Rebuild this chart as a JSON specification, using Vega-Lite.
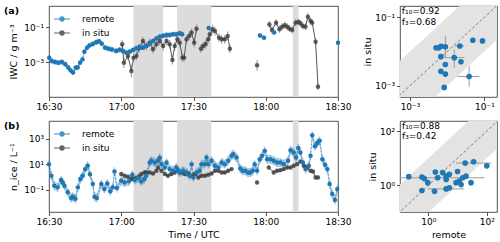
{
"$schema":"https://vega.github.io/schema/vega-lite/v6.json",
"padding":{"left":3,"top":5,"right":4,"bottom":2},
"columns":2,
"spacing":{"row":24,"column":62},
"bounds":"flush",
"resolve":{"scale":{"color":"independent"},"legend":{"color":"independent"}},
"config":{
 "font":"DejaVu Sans",
 "view":{"stroke":"#262626","strokeWidth":0.8},
 "axis":{"grid":false,"domain":false,"labelFontSize":9,"titleFontSize":9.5,"titleFontWeight":"normal","labelColor":"#000","titleColor":"#000","tickColor":"#262626","tickSize":3.5,"tickWidth":0.8,"labelPadding":2,"titlePadding":3,"labelFont":"DejaVu Sans","titleFont":"DejaVu Sans"},
 "axisX":{"labelFlush":false},
 "axisY":{"labelFlush":false,"titlePadding":5},
 "legend":{"labelFont":"DejaVu Sans"},
 "text":{"font":"DejaVu Sans"},
 "title":{"font":"DejaVu Sans"}
},
"datasets":{
 "spans":[{"min":35.1,"end":47.4},{"min":53.2,"end":67.4},{"min":101.25,"end":103.6}],
 "remA":[{"min":0.1,"lg":-2.75,"lo":-2.9,"hi":-2.6,"seg":1},{"min":1.1,"lg":-2.94,"lo":-3.09,"hi":-2.79,"seg":1},{"min":2.5,"lg":-3.0,"lo":-3.15,"hi":-2.85,"seg":1},{"min":3.9,"lg":-3.04,"lo":-3.19,"hi":-2.89,"seg":1},{"min":5.4,"lg":-3.0,"lo":-3.15,"hi":-2.85,"seg":1},{"min":6.8,"lg":-3.13,"lo":-3.28,"hi":-2.98,"seg":1},{"min":8.0,"lg":-3.32,"lo":-3.47,"hi":-3.17,"seg":1},{"min":9.0,"lg":-3.48,"lo":-3.63,"hi":-3.33,"seg":1},{"min":10.0,"lg":-3.6,"lo":-3.75,"hi":-3.45,"seg":1},{"min":11.1,"lg":-3.32,"lo":-3.47,"hi":-3.17,"seg":1},{"min":11.9,"lg":-3.32,"lo":-3.47,"hi":-3.17,"seg":1},{"min":12.9,"lg":-3.04,"lo":-3.19,"hi":-2.89,"seg":1},{"min":13.9,"lg":-2.85,"lo":-3.0,"hi":-2.7,"seg":1},{"min":14.7,"lg":-2.41,"lo":-2.56,"hi":-2.26,"seg":1},{"min":15.8,"lg":-2.18,"lo":-2.33,"hi":-2.03,"seg":1},{"min":16.8,"lg":-2.05,"lo":-2.2,"hi":-1.9,"seg":1},{"min":18.2,"lg":-1.97,"lo":-2.12,"hi":-1.82,"seg":1},{"min":19.6,"lg":-1.87,"lo":-2.02,"hi":-1.72,"seg":1},{"min":20.8,"lg":-1.82,"lo":-1.97,"hi":-1.67,"seg":1},{"min":21.9,"lg":-1.95,"lo":-2.1,"hi":-1.8,"seg":1},{"min":23.3,"lg":-2.18,"lo":-2.33,"hi":-2.03,"seg":1},{"min":24.7,"lg":-2.24,"lo":-2.39,"hi":-2.09,"seg":1},{"min":26.1,"lg":-2.28,"lo":-2.43,"hi":-2.13,"seg":1},{"min":27.9,"lg":-2.37,"lo":-2.52,"hi":-2.22,"seg":1},{"min":29.3,"lg":-2.3,"lo":-2.45,"hi":-2.15,"seg":1},{"min":30.7,"lg":-2.37,"lo":-2.52,"hi":-2.22,"seg":1},{"min":32.1,"lg":-2.47,"lo":-2.62,"hi":-2.32,"seg":1},{"min":33.5,"lg":-2.41,"lo":-2.56,"hi":-2.26,"seg":1},{"min":34.9,"lg":-2.31,"lo":-2.46,"hi":-2.16,"seg":1},{"min":36.3,"lg":-2.22,"lo":-2.37,"hi":-2.07,"seg":1},{"min":37.6,"lg":-2.14,"lo":-2.29,"hi":-1.99,"seg":1},{"min":39.0,"lg":-2.18,"lo":-2.33,"hi":-2.03,"seg":1},{"min":40.4,"lg":-2.09,"lo":-2.24,"hi":-1.94,"seg":1},{"min":41.8,"lg":-1.95,"lo":-2.1,"hi":-1.8,"seg":1},{"min":43.2,"lg":-1.8,"lo":-1.95,"hi":-1.65,"seg":1},{"min":44.6,"lg":-1.65,"lo":-1.8,"hi":-1.5,"seg":1},{"min":46.0,"lg":-1.55,"lo":-1.7,"hi":-1.4,"seg":1},{"min":47.4,"lg":-1.5,"lo":-1.65,"hi":-1.35,"seg":1},{"min":48.8,"lg":-1.46,"lo":-1.61,"hi":-1.31,"seg":1},{"min":50.1,"lg":-1.46,"lo":-1.61,"hi":-1.31,"seg":1},{"min":51.5,"lg":-1.42,"lo":-1.57,"hi":-1.27,"seg":1},{"min":52.9,"lg":-1.42,"lo":-1.57,"hi":-1.27,"seg":1},{"min":54.3,"lg":-1.36,"lo":-1.51,"hi":-1.21,"seg":1},{"min":55.3,"lg":-1.42,"lo":-1.57,"hi":-1.27,"seg":1},{"min":66.3,"lg":-1.06,"lo":-1.18,"hi":-0.94,"seg":2},{"min":87.6,"lg":-1.48,"lo":-1.6,"hi":-1.36,"seg":3},{"min":89.3,"lg":-1.61,"lo":-1.73,"hi":-1.49,"seg":3},{"min":93.5,"lg":-1.32,"lo":-1.44,"hi":-1.2,"seg":4},{"min":120,"lg":-1.9,"lo":-2.02,"hi":-1.78,"seg":5}],
 "insA":[{"min":30.4,"lg":-1.99,"lo":-2.24,"hi":-1.74,"seg":1},{"min":31.1,"lg":-3.04,"lo":-3.34,"hi":-2.74,"seg":1},{"min":32.8,"lg":-2.66,"lo":-2.91,"hi":-2.41,"seg":1},{"min":34.2,"lg":-3.51,"lo":-3.86,"hi":-3.16,"seg":1},{"min":35.1,"lg":-2.75,"lo":-3.0,"hi":-2.5,"seg":1},{"min":36.3,"lg":-2.66,"lo":-2.91,"hi":-2.41,"seg":1},{"min":37.5,"lg":-2.2,"lo":-2.45,"hi":-1.95,"seg":1},{"min":39.0,"lg":-1.8,"lo":-2.05,"hi":-1.55,"seg":1},{"min":40.4,"lg":-2.09,"lo":-2.34,"hi":-1.84,"seg":1},{"min":41.8,"lg":-1.9,"lo":-2.15,"hi":-1.65,"seg":1},{"min":43.2,"lg":-2.27,"lo":-2.52,"hi":-2.02,"seg":1},{"min":44.6,"lg":-1.99,"lo":-2.24,"hi":-1.74,"seg":1},{"min":46.0,"lg":-1.8,"lo":-2.05,"hi":-1.55,"seg":1},{"min":47.4,"lg":-2.09,"lo":-2.34,"hi":-1.84,"seg":1},{"min":48.8,"lg":-1.8,"lo":-2.05,"hi":-1.55,"seg":1},{"min":50.1,"lg":-1.99,"lo":-2.24,"hi":-1.74,"seg":1},{"min":51.25,"lg":-2.89,"lo":-3.14,"hi":-2.64,"seg":1},{"min":52.2,"lg":-2.09,"lo":-2.34,"hi":-1.84,"seg":1},{"min":53.3,"lg":-1.7,"lo":-1.95,"hi":-1.45,"seg":1},{"min":54.3,"lg":-1.9,"lo":-2.15,"hi":-1.65,"seg":1},{"min":55.4,"lg":-2.75,"lo":-3.0,"hi":-2.5,"seg":1},{"min":56.1,"lg":-2.75,"lo":-3.0,"hi":-2.5,"seg":1},{"min":57.1,"lg":-1.7,"lo":-1.95,"hi":-1.45,"seg":1},{"min":58.2,"lg":-1.51,"lo":-1.76,"hi":-1.26,"seg":1},{"min":59.2,"lg":-1.32,"lo":-1.57,"hi":-1.07,"seg":1},{"min":60.3,"lg":-1.9,"lo":-2.15,"hi":-1.65,"seg":1},{"min":61.25,"lg":-1.1,"lo":-1.35,"hi":-0.85,"seg":1},{"min":63.1,"lg":-2.24,"lo":-2.49,"hi":-1.99,"seg":2},{"min":64.0,"lg":-2.09,"lo":-2.34,"hi":-1.84,"seg":2},{"min":65.0,"lg":-1.99,"lo":-2.24,"hi":-1.74,"seg":2},{"min":66.1,"lg":-1.7,"lo":-1.95,"hi":-1.45,"seg":2},{"min":66.8,"lg":-1.42,"lo":-1.67,"hi":-1.17,"seg":2},{"min":67.9,"lg":-1.13,"lo":-1.38,"hi":-0.88,"seg":2},{"min":68.9,"lg":-1.23,"lo":-1.48,"hi":-0.98,"seg":2},{"min":70.6,"lg":-1.61,"lo":-1.86,"hi":-1.36,"seg":2},{"min":71.7,"lg":-1.7,"lo":-1.95,"hi":-1.45,"seg":2},{"min":73.0,"lg":-1.7,"lo":-1.95,"hi":-1.45,"seg":2},{"min":74.2,"lg":-1.51,"lo":-1.76,"hi":-1.26,"seg":2},{"min":75.1,"lg":-2.24,"lo":-2.49,"hi":-1.99,"seg":2},{"min":86.4,"lg":-3.19,"lo":-3.5,"hi":-2.88,"seg":3},{"min":91.5,"lg":-0.85,"lo":-1.05,"hi":-0.65,"seg":4},{"min":92.6,"lg":-1.17,"lo":-1.37,"hi":-0.97,"seg":4},{"min":94.3,"lg":-0.75,"lo":-0.95,"hi":-0.55,"seg":4},{"min":95.7,"lg":-1.13,"lo":-1.33,"hi":-0.93,"seg":4},{"min":96.8,"lg":-0.98,"lo":-1.18,"hi":-0.78,"seg":4},{"min":97.9,"lg":-0.9,"lo":-1.1,"hi":-0.7,"seg":4},{"min":98.9,"lg":-0.98,"lo":-1.18,"hi":-0.78,"seg":4},{"min":99.9,"lg":-1.1,"lo":-1.3,"hi":-0.9,"seg":4},{"min":101.0,"lg":-1.17,"lo":-1.37,"hi":-0.97,"seg":4},{"min":102.4,"lg":-0.75,"lo":-0.95,"hi":-0.55,"seg":4},{"min":103.5,"lg":-0.71,"lo":-0.91,"hi":-0.51,"seg":4},{"min":104.4,"lg":-0.79,"lo":-0.99,"hi":-0.59,"seg":4},{"min":105.4,"lg":-0.94,"lo":-1.14,"hi":-0.74,"seg":4},{"min":106.5,"lg":-0.98,"lo":-1.18,"hi":-0.78,"seg":4},{"min":107.5,"lg":-0.41,"lo":-0.61,"hi":-0.21,"seg":4},{"min":108.6,"lg":-0.66,"lo":-0.86,"hi":-0.46,"seg":4},{"min":109.3,"lg":-0.75,"lo":-0.95,"hi":-0.55,"seg":4},{"min":110.7,"lg":-1.84,"lo":-2.04,"hi":-1.64,"seg":4},{"min":111.7,"lg":-4.41,"lo":-4.61,"hi":-4.21,"seg":4}],
 "remB":[{"min":0,"lg":1.0,"lo":0.65,"hi":1.35},{"min":1,"lg":0.09,"lo":-0.26,"hi":0.44},{"min":2.2,"lg":-0.69,"lo":-1.04,"hi":-0.34},{"min":3.6,"lg":-0.82,"lo":-1.17,"hi":-0.47},{"min":5,"lg":-0.25,"lo":-0.6,"hi":0.1},{"min":5.7,"lg":-0.43,"lo":-0.78,"hi":-0.08},{"min":6.4,"lg":-0.69,"lo":-1.04,"hi":-0.34},{"min":7.8,"lg":-1.21,"lo":-1.56,"hi":-0.86},{"min":9.2,"lg":-1.65,"lo":-2.0,"hi":-1.3},{"min":9.9,"lg":-1.55,"lo":-1.9,"hi":-1.2},{"min":11,"lg":-1.72,"lo":-2.07,"hi":-1.37},{"min":12,"lg":-0.82,"lo":-1.17,"hi":-0.47},{"min":13,"lg":-0.17,"lo":-0.52,"hi":0.18},{"min":14,"lg":0.09,"lo":-0.26,"hi":0.44},{"min":15,"lg":0.61,"lo":0.26,"hi":0.96},{"min":16.1,"lg":0.87,"lo":0.52,"hi":1.22},{"min":17.0,"lg":0.2,"lo":-0.15,"hi":0.55},{"min":18.2,"lg":-0.56,"lo":-0.91,"hi":-0.21},{"min":18.9,"lg":-1.55,"lo":-1.9,"hi":-1.2},{"min":19.9,"lg":-1.65,"lo":-2.0,"hi":-1.3},{"min":21.7,"lg":-0.56,"lo":-0.91,"hi":-0.21},{"min":23,"lg":-0.95,"lo":-1.3,"hi":-0.6},{"min":24.2,"lg":-0.51,"lo":-0.86,"hi":-0.16},{"min":25.4,"lg":-1.13,"lo":-1.48,"hi":-0.78},{"min":26.5,"lg":-0.82,"lo":-1.17,"hi":-0.47},{"min":27.2,"lg":0.42,"lo":0.07,"hi":0.77},{"min":28.2,"lg":-0.87,"lo":-1.22,"hi":-0.52},{"min":30,"lg":-0.3,"lo":-0.65,"hi":0.05},{"min":31.4,"lg":-0.43,"lo":-0.78,"hi":-0.08},{"min":33.2,"lg":-0.35,"lo":-0.7,"hi":0.0},{"min":34.6,"lg":0.17,"lo":-0.18,"hi":0.52},{"min":35.6,"lg":-0.25,"lo":-0.6,"hi":0.1},{"min":37,"lg":-0.09,"lo":-0.44,"hi":0.26},{"min":38.3,"lg":-0.35,"lo":-0.7,"hi":0.0},{"min":39.6,"lg":-0.17,"lo":-0.52,"hi":0.18},{"min":40.4,"lg":0.09,"lo":-0.26,"hi":0.44},{"min":41.8,"lg":1.13,"lo":0.78,"hi":1.48},{"min":42.5,"lg":1.26,"lo":0.91,"hi":1.61},{"min":43.9,"lg":1.13,"lo":0.78,"hi":1.48},{"min":45.3,"lg":1.26,"lo":0.91,"hi":1.61},{"min":46.0,"lg":1.5,"lo":1.15,"hi":1.85},{"min":46.7,"lg":1.0,"lo":0.65,"hi":1.35},{"min":48.1,"lg":0.74,"lo":0.39,"hi":1.09},{"min":48.8,"lg":1.13,"lo":0.78,"hi":1.48},{"min":50.1,"lg":0.61,"lo":0.26,"hi":0.96},{"min":51.5,"lg":0.48,"lo":0.13,"hi":0.83},{"min":52.9,"lg":0.74,"lo":0.39,"hi":1.09},{"min":53.6,"lg":0.48,"lo":0.13,"hi":0.83},{"min":54.3,"lg":0.35,"lo":0.0,"hi":0.7},{"min":55.7,"lg":0.48,"lo":0.13,"hi":0.83},{"min":57.1,"lg":0.35,"lo":0.0,"hi":0.7},{"min":58.5,"lg":0.09,"lo":-0.26,"hi":0.44},{"min":59.2,"lg":1.0,"lo":0.65,"hi":1.35},{"min":59.9,"lg":-0.04,"lo":-0.39,"hi":0.31},{"min":61.25,"lg":0.35,"lo":0.0,"hi":0.7},{"min":62.6,"lg":0.48,"lo":0.13,"hi":0.83},{"min":63.3,"lg":1.0,"lo":0.65,"hi":1.35},{"min":64.7,"lg":1.0,"lo":0.65,"hi":1.35},{"min":65.4,"lg":1.52,"lo":1.17,"hi":1.87},{"min":66.1,"lg":1.0,"lo":0.65,"hi":1.35},{"min":67.5,"lg":1.26,"lo":0.91,"hi":1.61},{"min":68.9,"lg":0.87,"lo":0.52,"hi":1.22},{"min":70.3,"lg":0.74,"lo":0.39,"hi":1.09},{"min":71.7,"lg":1.13,"lo":0.78,"hi":1.48},{"min":73.0,"lg":1.0,"lo":0.65,"hi":1.35},{"min":74.4,"lg":1.26,"lo":0.91,"hi":1.61},{"min":75.8,"lg":1.65,"lo":1.3,"hi":2.0},{"min":76.5,"lg":1.78,"lo":1.43,"hi":2.13},{"min":77.9,"lg":1.52,"lo":1.17,"hi":1.87},{"min":79.4,"lg":0.65,"lo":0.3,"hi":1.0},{"min":80.4,"lg":0.48,"lo":0.13,"hi":0.83},{"min":81.5,"lg":0.48,"lo":0.13,"hi":0.83},{"min":82.6,"lg":0.35,"lo":0.0,"hi":0.7},{"min":83.6,"lg":0.35,"lo":0.0,"hi":0.7},{"min":84.6,"lg":0.48,"lo":0.13,"hi":0.83},{"min":85.4,"lg":1.0,"lo":0.65,"hi":1.35},{"min":86.4,"lg":0.48,"lo":0.13,"hi":0.83},{"min":87.5,"lg":1.39,"lo":1.04,"hi":1.74},{"min":88.5,"lg":1.65,"lo":1.3,"hi":2.0},{"min":89.6,"lg":2.04,"lo":1.69,"hi":2.39},{"min":90.6,"lg":1.39,"lo":1.04,"hi":1.74},{"min":92,"lg":1.39,"lo":1.04,"hi":1.74},{"min":93.3,"lg":1.26,"lo":0.91,"hi":1.61},{"min":94.7,"lg":1.13,"lo":0.78,"hi":1.48},{"min":96.1,"lg":1.13,"lo":0.78,"hi":1.48},{"min":97.5,"lg":1.0,"lo":0.65,"hi":1.35},{"min":99.3,"lg":1.26,"lo":0.91,"hi":1.61},{"min":100.3,"lg":2.09,"lo":1.74,"hi":2.44},{"min":101.6,"lg":1.91,"lo":1.56,"hi":2.26},{"min":102.6,"lg":1.52,"lo":1.17,"hi":1.87},{"min":103.5,"lg":2.26,"lo":1.91,"hi":2.61},{"min":104.4,"lg":1.91,"lo":1.56,"hi":2.26},{"min":105.4,"lg":1.13,"lo":0.78,"hi":1.48},{"min":106.5,"lg":0.61,"lo":0.26,"hi":0.96},{"min":107.9,"lg":0.87,"lo":0.52,"hi":1.22},{"min":108.6,"lg":1.65,"lo":1.3,"hi":2.0},{"min":109.3,"lg":3.26,"lo":2.91,"hi":3.61},{"min":110.4,"lg":2.41,"lo":2.06,"hi":2.76},{"min":111.4,"lg":2.66,"lo":2.31,"hi":3.01},{"min":112.4,"lg":2.83,"lo":2.48,"hi":3.18},{"min":113.5,"lg":1.39,"lo":1.04,"hi":1.74},{"min":114.6,"lg":0.96,"lo":0.61,"hi":1.31},{"min":115.6,"lg":0.61,"lo":0.26,"hi":0.96},{"min":116.5,"lg":-0.56,"lo":-0.91,"hi":-0.21},{"min":117.6,"lg":-1.34,"lo":-1.69,"hi":-0.99},{"min":118.75,"lg":-1.81,"lo":-2.16,"hi":-1.46},{"min":119.7,"lg":-0.95,"lo":-1.3,"hi":-0.6}],
 "insB":[{"min":30,"lg":0.22,"lo":0.07,"hi":0.37,"seg":1},{"min":31.4,"lg":0.09,"lo":-0.06,"hi":0.24,"seg":1},{"min":32.8,"lg":0.01,"lo":-0.14,"hi":0.16,"seg":1},{"min":34.2,"lg":-0.17,"lo":-0.32,"hi":-0.02,"seg":1},{"min":35.1,"lg":-0.17,"lo":-0.32,"hi":-0.02,"seg":1},{"min":36.25,"lg":-0.09,"lo":-0.24,"hi":0.06,"seg":1},{"min":37.4,"lg":0.01,"lo":-0.14,"hi":0.16,"seg":1},{"min":38.3,"lg":0.22,"lo":0.07,"hi":0.37,"seg":1},{"min":39.7,"lg":0.35,"lo":0.2,"hi":0.5,"seg":1},{"min":40.4,"lg":0.35,"lo":0.2,"hi":0.5,"seg":1},{"min":41.8,"lg":0.35,"lo":0.2,"hi":0.5,"seg":1},{"min":43.2,"lg":0.27,"lo":0.12,"hi":0.42,"seg":1},{"min":44.6,"lg":0.48,"lo":0.33,"hi":0.63,"seg":1},{"min":45.3,"lg":0.74,"lo":0.59,"hi":0.89,"seg":1},{"min":46.7,"lg":0.48,"lo":0.33,"hi":0.63,"seg":1},{"min":48.1,"lg":0.22,"lo":0.07,"hi":0.37,"seg":1},{"min":49.4,"lg":0.09,"lo":-0.06,"hi":0.24,"seg":1},{"min":50.8,"lg":0.22,"lo":0.07,"hi":0.37,"seg":1},{"min":52.2,"lg":0.35,"lo":0.2,"hi":0.5,"seg":1},{"min":53.6,"lg":0.48,"lo":0.33,"hi":0.63,"seg":1},{"min":55.0,"lg":0.35,"lo":0.2,"hi":0.5,"seg":1},{"min":56.4,"lg":0.22,"lo":0.07,"hi":0.37,"seg":1},{"min":57.8,"lg":0.27,"lo":0.12,"hi":0.42,"seg":1},{"min":59.2,"lg":0.09,"lo":-0.06,"hi":0.24,"seg":1},{"min":60.6,"lg":0.22,"lo":0.07,"hi":0.37,"seg":1},{"min":62.0,"lg":-0.04,"lo":-0.19,"hi":0.11,"seg":1},{"min":63.3,"lg":0.09,"lo":-0.06,"hi":0.24,"seg":1},{"min":64.7,"lg":0.09,"lo":-0.06,"hi":0.24,"seg":1},{"min":66.1,"lg":0.17,"lo":0.02,"hi":0.32,"seg":1},{"min":67.5,"lg":0.27,"lo":0.12,"hi":0.42,"seg":1},{"min":68.9,"lg":0.48,"lo":0.33,"hi":0.63,"seg":1},{"min":70.3,"lg":0.48,"lo":0.33,"hi":0.63,"seg":1},{"min":71.7,"lg":0.35,"lo":0.2,"hi":0.5,"seg":1},{"min":73.0,"lg":0.35,"lo":0.2,"hi":0.5,"seg":1},{"min":74.4,"lg":0.48,"lo":0.33,"hi":0.63,"seg":1},{"min":75.8,"lg":0.61,"lo":0.46,"hi":0.76,"seg":1},{"min":86.4,"lg":-0.43,"lo":-0.58,"hi":-0.28,"seg":2},{"min":91.25,"lg":0.74,"lo":0.59,"hi":0.89,"seg":3},{"min":93.3,"lg":0.35,"lo":0.2,"hi":0.5,"seg":3},{"min":94.7,"lg":0.48,"lo":0.33,"hi":0.63,"seg":3},{"min":96.1,"lg":0.53,"lo":0.38,"hi":0.68,"seg":3},{"min":97.5,"lg":0.61,"lo":0.46,"hi":0.76,"seg":3},{"min":98.9,"lg":0.74,"lo":0.59,"hi":0.89,"seg":3},{"min":100.3,"lg":0.74,"lo":0.59,"hi":0.89,"seg":3},{"min":101.6,"lg":0.87,"lo":0.72,"hi":1.02,"seg":3},{"min":103,"lg":1.0,"lo":0.85,"hi":1.15,"seg":3},{"min":104.4,"lg":1.21,"lo":1.06,"hi":1.36,"seg":3},{"min":105.8,"lg":0.87,"lo":0.72,"hi":1.02,"seg":3},{"min":107.2,"lg":0.74,"lo":0.59,"hi":0.89,"seg":3},{"min":108.6,"lg":0.48,"lo":0.33,"hi":0.63,"seg":3},{"min":109.6,"lg":0.43,"lo":0.28,"hi":0.58,"seg":3},{"min":110.7,"lg":-0.04,"lo":-0.19,"hi":0.11,"seg":3},{"min":111.7,"lg":-0.04,"lo":-0.19,"hi":0.11,"seg":3}],
 "diagA":[{"x":-3.6,"lo":-4.6,"hi":-2.6},{"x":-0.3,"lo":-1.3,"hi":0.7}],
 "diagB":[{"x":-1.3,"lo":-2.3,"hi":-0.3},{"x":2.7,"lo":1.7,"hi":3.7}],
 "scA":[{"x":-2.3,"y":-1.89},{"x":-2.23,"y":-1.89},{"x":-2.17,"y":-1.85},{"x":-2.05,"y":-1.86,"xlo":-2.1,"xhi":-2.0,"ylo":-2.18,"yhi":-1.54},{"x":-1.66,"y":-1.84,"xlo":-1.8,"xhi":-1.55},{"x":-1.31,"y":-1.67},{"x":-1.05,"y":-1.69},{"x":-2.17,"y":-2.15},{"x":-1.81,"y":-2.18,"xlo":-2.08,"xhi":-1.54,"ylo":-2.48,"yhi":-1.94},{"x":-1.63,"y":-2.3},{"x":-2.05,"y":-2.38},{"x":-2.17,"y":-2.58},{"x":-2.05,"y":-2.66},{"x":-1.41,"y":-2.73,"xlo":-1.72,"xhi":-1.14,"ylo":-3.02,"yhi":-2.43},{"x":-2.08,"y":-3.05}],
 "scB":[{"x":-0.67,"y":0.32},{"x":-0.22,"y":0.31},{"x":-0.14,"y":0.25},{"x":-0.02,"y":0.1},{"x":-0.22,"y":-0.19},{"x":0.21,"y":-0.22},{"x":0.24,"y":0.49},{"x":0.32,"y":0.28,"xlo":-1.0,"xhi":1.92},{"x":0.49,"y":0.47},{"x":0.61,"y":0.34},{"x":0.61,"y":0.22},{"x":0.72,"y":0.41},{"x":0.61,"y":-0.13,"xlo":-0.02,"xhi":1.23},{"x":0.72,"y":-0.09},{"x":1.0,"y":0.51},{"x":0.95,"y":0.1},{"x":1.06,"y":0.16},{"x":1.18,"y":0.28},{"x":1.29,"y":0.34},{"x":1.26,"y":0.82,"xlo":0.95,"xhi":2.15},{"x":1.55,"y":0.87},{"x":2.0,"y":0.72},{"x":1.46,"y":0.1},{"x":1.12,"y":0.03}]
},
"concat":[
 {
  "width":289,"height":91,
  "title":{"text":"(a)","anchor":"start","frame":"group","dx":-45,"dy":9,"offset":0,"baseline":"top","fontSize":9.5,"fontWeight":"bold"},
  "layer":[
   {"data":{"name":"spans"},"mark":{"type":"rect","color":"#dcdcdc"},
    "encoding":{"x":{"field":"min","type":"quantitative","title":null,"scale":{"domain":[0,120],"nice":false,"zero":false},"axis":{"values":[0,30,60,90,120],"labelExpr":"timeFormat(datetime(2000,0,1,16,30+datum.value),'%H:%M')"}},"x2":{"field":"end"}}},
   {"data":{"name":"remA"},"mark":{"type":"area","color":"#1f77b4","opacity":0.3},
    "encoding":{"x":{"field":"min","type":"quantitative","title":null},"y":{"field":"lo","type":"quantitative","title":"IWC / g m⁻³","scale":{"domain":[-5,0.2],"nice":false,"zero":false},"axis":{"values":[-3,-1],"labelExpr":"datum.value==-3?'10⁻³':datum.value==-1?'10⁻¹':datum.value==0?'10⁰':datum.value==1?'10¹':datum.value==2?'10²':datum.value==3?'10³':''"}},"y2":{"field":"hi"},"detail":{"field":"seg"}}},
   {"data":{"name":"remA"},"mark":{"type":"rule","color":"#1f77b4","opacity":0.35,"strokeWidth":1.5},
    "encoding":{"x":{"field":"min","type":"quantitative","title":null},"y":{"field":"lo","type":"quantitative","title":"IWC / g m⁻³"},"y2":{"field":"hi"}}},
   {"data":{"name":"remA"},"mark":{"type":"line","color":"#1f77b4","strokeWidth":0.7,"strokeDash":[2,1.5]},
    "encoding":{"x":{"field":"min","type":"quantitative","title":null},"y":{"field":"lg","type":"quantitative","title":"IWC / g m⁻³"},"detail":{"field":"seg"}}},
   {"data":{"name":"insA"},"mark":{"type":"rule","color":"#8c8c8c","strokeWidth":1.2,"opacity":0.8},
    "encoding":{"x":{"field":"min","type":"quantitative","title":null},"y":{"field":"lo","type":"quantitative","title":"IWC / g m⁻³"},"y2":{"field":"hi"}}},
   {"data":{"name":"insA"},"mark":{"type":"line","color":"#555555","strokeWidth":1},
    "encoding":{"x":{"field":"min","type":"quantitative","title":null},"y":{"field":"lg","type":"quantitative","title":"IWC / g m⁻³"},"detail":{"field":"seg"}}},
   {"data":{"name":"insA"},"mark":{"type":"point","filled":true,"size":20,"opacity":0.8},
    "encoding":{"x":{"field":"min","type":"quantitative","title":null},"y":{"field":"lg","type":"quantitative","title":"IWC / g m⁻³"},
     "color":{"datum":"in situ","scale":{"domain":["remote","in situ"],"range":["#1f77b4","#3d3d3d"]},
      "legend":{"title":null,"orient":"top-left","offset":4,"padding":0,"symbolSize":256,"symbolType":"M-1,-0.06L1,-0.06L1,0.06L-1,0.06ZM-0.35,0A0.35,0.35,0,1,1,0.35,0A0.35,0.35,0,1,1,-0.35,0Z","labelOffset":11,"rowPadding":-3,"labelFontSize":9,
       "encode":{"symbols":{"size":{"value":256},"opacity":{"value":1}}}}}}},
   {"data":{"name":"remA"},"mark":{"type":"point","filled":true,"size":20,"opacity":1},
    "encoding":{"x":{"field":"min","type":"quantitative","title":null},"y":{"field":"lg","type":"quantitative","title":"IWC / g m⁻³"},"color":{"datum":"remote"}}}
  ]
 },
 {
  "width":97,"height":91,
  "layer":[
   {"data":{"name":"diagA"},"mark":{"type":"area","color":"#e3e3e3","clip":true},
    "encoding":{"x":{"field":"x","type":"quantitative","title":null,"scale":{"domain":[-3.27,-0.66],"nice":false,"zero":false},"axis":{"values":[-3,-1],"labelExpr":"datum.value==-3?'10⁻³':datum.value==-1?'10⁻¹':datum.value==0?'10⁰':datum.value==1?'10¹':datum.value==2?'10²':datum.value==3?'10³':''"}},
     "y":{"field":"lo","type":"quantitative","title":"in situ","scale":{"domain":[-3.33,-0.67],"nice":false,"zero":false},"axis":{"values":[-3,-1],"titlePadding":2,"labelExpr":"datum.value==-3?'10⁻³':datum.value==-1?'10⁻¹':datum.value==0?'10⁰':datum.value==1?'10¹':datum.value==2?'10²':datum.value==3?'10³':''"}},"y2":{"field":"hi"}}},
   {"data":{"name":"diagA"},"mark":{"type":"line","color":"#555555","strokeWidth":0.7,"strokeDash":[3,2],"clip":true},
    "encoding":{"x":{"field":"x","type":"quantitative","title":null},"y":{"field":"x","type":"quantitative","title":"in situ"}}},
   {"data":{"name":"scA"},"mark":{"type":"rule","color":"#999999","strokeWidth":1,"clip":true},
    "encoding":{"x":{"field":"xlo","type":"quantitative","title":null},"x2":{"field":"xhi"},"y":{"field":"y","type":"quantitative","title":"in situ"}}},
   {"data":{"name":"scA"},"mark":{"type":"rule","color":"#999999","strokeWidth":1,"clip":true},
    "encoding":{"x":{"field":"x","type":"quantitative","title":null},"y":{"field":"ylo","type":"quantitative","title":"in situ"},"y2":{"field":"yhi"}}},
   {"data":{"name":"scA"},"mark":{"type":"point","filled":true,"size":32,"color":"#1f77b4","opacity":1},
    "encoding":{"x":{"field":"x","type":"quantitative","title":null},"y":{"field":"y","type":"quantitative","title":"in situ"}}},
   {"data":{"values":[{}]},"mark":{"type":"text","align":"left","baseline":"top","fontSize":9,"lineHeight":10.5,"color":"#000"},
    "encoding":{"x":{"datum":-3.22,"type":"quantitative","title":null},"y":{"datum":-0.7,"type":"quantitative","title":"in situ"},"text":{"value":["f₁₀=0.92","f₃=0.68"]}}}
  ]
 },
 {
  "width":289,"height":91,
  "title":{"text":"(b)","anchor":"start","frame":"group","dx":-45,"dy":9,"offset":0,"baseline":"top","fontSize":9.5,"fontWeight":"bold"},
  "layer":[
   {"data":{"name":"spans"},"mark":{"type":"rect","color":"#dcdcdc"},
    "encoding":{"x":{"field":"min","type":"quantitative","title":"Time / UTC","scale":{"domain":[0,120],"nice":false,"zero":false},"axis":{"values":[0,30,60,90,120],"labelExpr":"timeFormat(datetime(2000,0,1,16,30+datum.value),'%H:%M')"}},"x2":{"field":"end"}}},
   {"data":{"name":"remB"},"mark":{"type":"area","color":"#1f77b4","opacity":0.3},
    "encoding":{"x":{"field":"min","type":"quantitative","title":"Time / UTC"},"y":{"field":"lo","type":"quantitative","title":"n_ice / L⁻¹","scale":{"domain":[-2.75,4.38],"nice":false,"zero":false},"axis":{"values":[-1,1,3],"labelExpr":"datum.value==-3?'10⁻³':datum.value==-1?'10⁻¹':datum.value==0?'10⁰':datum.value==1?'10¹':datum.value==2?'10²':datum.value==3?'10³':''"}},"y2":{"field":"hi"}}},
   {"data":{"name":"remB"},"mark":{"type":"rule","color":"#1f77b4","opacity":0.25,"strokeWidth":1.5},
    "encoding":{"x":{"field":"min","type":"quantitative","title":"Time / UTC"},"y":{"field":"lo","type":"quantitative","title":"n_ice / L⁻¹"},"y2":{"field":"hi"}}},
   {"data":{"name":"remB"},"mark":{"type":"line","color":"#1f77b4","strokeWidth":0.7,"strokeDash":[2,1.5]},
    "encoding":{"x":{"field":"min","type":"quantitative","title":"Time / UTC"},"y":{"field":"lg","type":"quantitative","title":"n_ice / L⁻¹"}}},
   {"data":{"name":"insB"},"mark":{"type":"rule","color":"#8c8c8c","strokeWidth":1.5,"opacity":0.7},
    "encoding":{"x":{"field":"min","type":"quantitative","title":"Time / UTC"},"y":{"field":"lo","type":"quantitative","title":"n_ice / L⁻¹"},"y2":{"field":"hi"}}},
   {"data":{"name":"insB"},"mark":{"type":"line","color":"#555555","strokeWidth":1},
    "encoding":{"x":{"field":"min","type":"quantitative","title":"Time / UTC"},"y":{"field":"lg","type":"quantitative","title":"n_ice / L⁻¹"},"detail":{"field":"seg"}}},
   {"data":{"name":"insB"},"mark":{"type":"point","filled":true,"size":20,"opacity":0.8},
    "encoding":{"x":{"field":"min","type":"quantitative","title":"Time / UTC"},"y":{"field":"lg","type":"quantitative","title":"n_ice / L⁻¹"},
     "color":{"datum":"in situ","scale":{"domain":["remote","in situ"],"range":["#1f77b4","#3d3d3d"]},
      "legend":{"title":null,"orient":"top-left","offset":4,"padding":0,"symbolSize":256,"symbolType":"M-1,-0.06L1,-0.06L1,0.06L-1,0.06ZM-0.35,0A0.35,0.35,0,1,1,0.35,0A0.35,0.35,0,1,1,-0.35,0Z","labelOffset":11,"rowPadding":-3,"labelFontSize":9,
       "encode":{"symbols":{"size":{"value":256},"opacity":{"value":1}}}}}}},
   {"data":{"name":"remB"},"mark":{"type":"point","filled":true,"size":20,"opacity":1},
    "encoding":{"x":{"field":"min","type":"quantitative","title":"Time / UTC"},"y":{"field":"lg","type":"quantitative","title":"n_ice / L⁻¹"},"color":{"datum":"remote"}}}
  ]
 },
 {
  "width":97,"height":91,
  "layer":[
   {"data":{"name":"diagB"},"mark":{"type":"area","color":"#e3e3e3","clip":true},
    "encoding":{"x":{"field":"x","type":"quantitative","title":"remote","scale":{"domain":[-0.97,2.35],"nice":false,"zero":false},"axis":{"values":[0,2],"labelExpr":"datum.value==-3?'10⁻³':datum.value==-1?'10⁻¹':datum.value==0?'10⁰':datum.value==1?'10¹':datum.value==2?'10²':datum.value==3?'10³':''"}},
     "y":{"field":"lo","type":"quantitative","title":"in situ","scale":{"domain":[-0.98,2.37],"nice":false,"zero":false},"axis":{"values":[0,2],"titlePadding":2,"labelExpr":"datum.value==-3?'10⁻³':datum.value==-1?'10⁻¹':datum.value==0?'10⁰':datum.value==1?'10¹':datum.value==2?'10²':datum.value==3?'10³':''"}},"y2":{"field":"hi"}}},
   {"data":{"name":"diagB"},"mark":{"type":"line","color":"#555555","strokeWidth":0.7,"strokeDash":[3,2],"clip":true},
    "encoding":{"x":{"field":"x","type":"quantitative","title":"remote"},"y":{"field":"x","type":"quantitative","title":"in situ"}}},
   {"data":{"name":"scB"},"mark":{"type":"rule","color":"#999999","strokeWidth":1,"clip":true},
    "encoding":{"x":{"field":"xlo","type":"quantitative","title":"remote"},"x2":{"field":"xhi"},"y":{"field":"y","type":"quantitative","title":"in situ"}}},
   {"data":{"name":"scB"},"mark":{"type":"point","filled":true,"size":32,"color":"#1f77b4","opacity":1},
    "encoding":{"x":{"field":"x","type":"quantitative","title":"remote"},"y":{"field":"y","type":"quantitative","title":"in situ"}}},
   {"data":{"values":[{}]},"mark":{"type":"text","align":"left","baseline":"top","fontSize":9,"lineHeight":10.5,"color":"#000"},
    "encoding":{"x":{"datum":-0.9,"type":"quantitative","title":"remote"},"y":{"datum":2.34,"type":"quantitative","title":"in situ"},"text":{"value":["f₁₀=0.88","f₃=0.42"]}}}
  ]
 }
]
}
